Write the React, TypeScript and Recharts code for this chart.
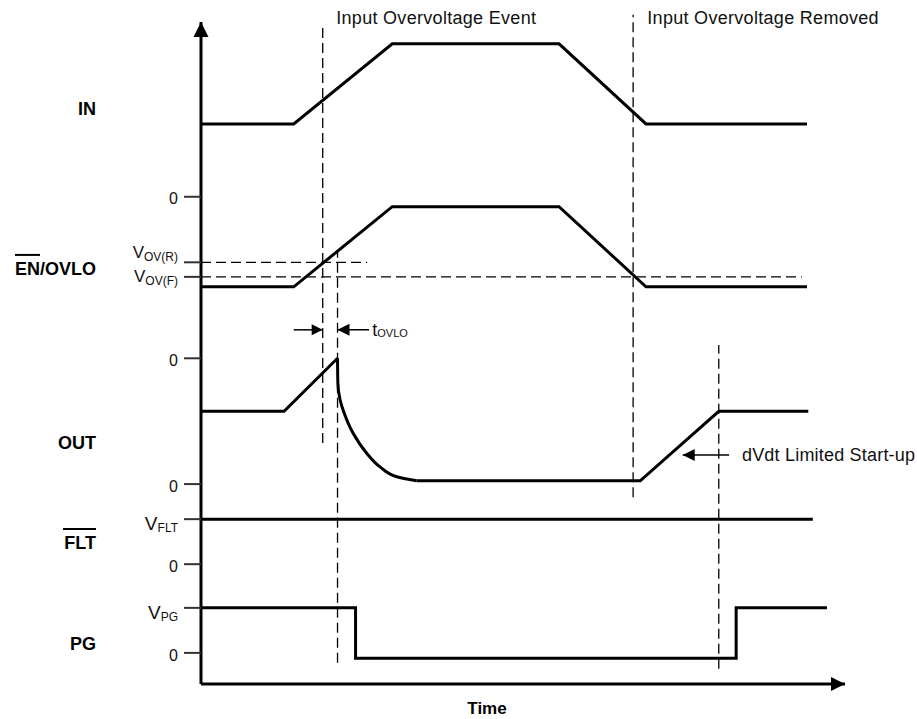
import { LineChart, Line, XAxis, YAxis, ReferenceLine, ReferenceDot } from "recharts";

const FONT = '"Liberation Sans", Arial, Helvetica, sans-serif';

// time runs 0..100 along x, the signals sit stacked in lanes on a 0..100 level axis
const edgeTime = [0, 14.4, 29.7, 55.6, 69.1, 94.1];
const inLevel = [84.6, 84.6, 96.7, 96.7, 84.6, 84.6];
const enLevel = [60.0, 60.0, 72.1, 72.1, 60.0, 60.0];

const outTime = [0, 12.9, 21.2, 21.25, 21.6, 22.2, 23.6, 25.7, 27.8, 30.4, 33.5, 68.2, 80.4, 94.3];
const outLevel = [41.2, 41.2, 49.2, 45.5, 42.9, 41.0, 37.9, 34.9, 32.8, 31.3, 30.7, 30.7, 41.2, 41.2];

const fltTime = [0, 95.0];
const fltLevel = [24.9, 24.9];

const pgTime = [0, 24.0, 24.0, 83.1, 83.1, 97.2];
const pgLevel = [11.5, 11.5, 3.9, 3.9, 11.5, 11.5];

const levelTicks = [73.6, 63.7, 61.5, 49.2, 30.2, 24.9, 18.1, 11.5, 4.7];
const levelTickLabels = ["0", "V:OV(R)", "V:OV(F)", "0", "0", "V:FLT", "0", "V:PG", "0"];

const laneNames = ["IN", "EN/OVLO", "OUT", "FLT", "PG"];
const laneBars = ["", "EN", "", "FLT", ""];
const laneCenters = [87.0, 62.7, 36.5, 21.3, 6.1];

const markerTimes = [18.9, 21.2, 67.1, 80.4];
const markerFrom = [36.4, 3.2, 28.2, 2.3];
const markerTo = [99.8, 65.3, 101.1, 51.2];

const thresholdLevels = [63.7, 61.5];
const thresholdEnds = [25.8, 93.3];

const eventNotes = ["Input Overvoltage Event", "Input Overvoltage Removed"];
const eventNoteTimes = [21.0, 69.3];
const noteLevel = 99.7;

const tovloLevel = 53.5;
const tovloIn = [14.4, 18.9];
const tovloOut = [26.1, 21.2];
const dvdtLevel = 34.6;
const dvdtArrow = [82.0, 74.8];

const rows = (ts: number[], vs: number[]) => ts.map((t, i) => ({ t, v: vs[i] }));
const inRows = rows(edgeTime, inLevel);
const enRows = rows(edgeTime, enLevel);
const outRows = rows(outTime, outLevel);
const fltRows = rows(fltTime, fltLevel);
const pgRows = rows(pgTime, pgLevel);

// approx bold Arial advance widths, used only to place the overbars
const boldW: Record<string, number> = {
  I: 0.278, N: 0.722, E: 0.667, "/": 0.278, O: 0.778, V: 0.667, L: 0.611,
  U: 0.722, T: 0.611, F: 0.611, P: 0.667, G: 0.778
};
const textWidth = (s: string, size: number) =>
  s.split("").reduce((sum, ch) => sum + (boldW[ch] ?? 0.6), 0) * size;

const subStyle: Record<string, { big: number; small: number; base: number; drop: number }> = {
  "OV(R)": { big: 17, small: 12, base: -4, drop: 3 },
  "OV(F)": { big: 17, small: 12, base: 5, drop: 3 },
  FLT: { big: 19, small: 12, base: 11, drop: 2 },
  PG: { big: 19, small: 12, base: 11, drop: 2 }
};

function LevelTick(props: any) {
  const { x, y, payload } = props;
  const lane = laneCenters.indexOf(payload.value);
  if (lane >= 0) {
    const name = laneNames[lane];
    const right = x - 82;
    const full = textWidth(name, 18);
    const bar = textWidth(laneBars[lane], 18);
    return (
      <g>
        <text x={right} y={y + 6.5} textAnchor="end" fontFamily={FONT} fontSize={18} fontWeight={700} fill="#000">
          {name}
        </text>
        {bar > 0 && (
          <line x1={right - full} x2={right - full + bar} y1={y - 14} y2={y - 14} stroke="#000" strokeWidth={2} />
        )}
      </g>
    );
  }

  const i = levelTicks.indexOf(payload.value);
  const [main, sub] = levelTickLabels[i].split(":");
  const tick = <line x1={x + 6} x2={x + 23} y1={y} y2={y} stroke="#333" strokeWidth={2} />;
  if (!sub) {
    return (
      <g>
        {tick}
        <text x={x} y={y + 7.7} textAnchor="end" fontFamily={FONT} fontSize={16} fill="#111">
          {main}
        </text>
      </g>
    );
  }
  const s = subStyle[sub];
  return (
    <g>
      {tick}
      <text x={x} y={y + s.base} textAnchor="end" fontFamily={FONT} fill="#111">
        <tspan fontSize={s.big}>{main}</tspan>
        <tspan fontSize={s.small} dy={s.drop}>{sub}</tspan>
      </text>
    </g>
  );
}

const arrowUp = (p: any) => (
  <polygon points={`${p.cx},${p.cy} ${p.cx - 7.5},${p.cy + 15} ${p.cx + 7.5},${p.cy + 15}`} fill="#000" />
);
const arrowRight = (p: any) => (
  <polygon points={`${p.cx},${p.cy} ${p.cx - 14},${p.cy - 7} ${p.cx - 14},${p.cy + 7}`} fill="#000" />
);
const headRight = (p: any) => (
  <polygon points={`${p.cx},${p.cy} ${p.cx - 11},${p.cy - 5.5} ${p.cx - 11},${p.cy + 5.5}`} fill="#000" />
);
const headLeft = (p: any) => (
  <polygon points={`${p.cx},${p.cy} ${p.cx + 12},${p.cy - 6} ${p.cx + 12},${p.cy + 6}`} fill="#000" />
);

const noteShape = (text: string) => (p: any) => (
  <text x={p.cx} y={p.cy} fontFamily={FONT} fontSize={18} letterSpacing={0.3} fill="#111">
    {text}
  </text>
);

const tovloShape = (p: any) => (
  <text x={p.cx} y={p.cy + 6} fontFamily={FONT} fill="#111">
    <tspan fontSize={18}>t</tspan>
    <tspan fontSize={11} dy={1}>OVLO</tspan>
  </text>
);

const dvdtShape = (p: any) => (
  <text x={p.cx} y={p.cy + 6.5} fontFamily={FONT} fontSize={18} letterSpacing={0.2} fill="#111">
    dVdt Limited Start-up
  </text>
);

const signal = { stroke: "#000", strokeWidth: 3, dot: false, isAnimationActive: false, activeDot: false } as const;
const dashed = { stroke: "#000", strokeWidth: 1.3, strokeDasharray: "10 5", ifOverflow: "visible" } as const;

export default function App() {
  return (
    <div style={{ width: 917, height: 719, background: "#fff" }}>
      <style>{`body{margin:0;background:#fff}`}</style>
      <LineChart width={917} height={719} margin={{ top: 22, right: 72, bottom: 0, left: 0 }}>
        <XAxis
          type="number"
          dataKey="t"
          domain={[0, 100]}
          tick={false}
          tickLine={false}
          height={35}
          axisLine={{ stroke: "#000", strokeWidth: 3 }}
          label={{
            value: "Time",
            position: "insideBottom",
            offset: 5,
            dx: -36,
            fill: "#000",
            fontSize: 17,
            fontWeight: 700,
            fontFamily: FONT
          }}
        />
        <YAxis
          type="number"
          dataKey="v"
          domain={[0, 100]}
          ticks={[...levelTicks, ...laneCenters]}
          interval={0}
          tick={(p: any) => <LevelTick {...p} />}
          tickLine={false}
          tickSize={17}
          tickMargin={6}
          width={201}
          axisLine={{ stroke: "#000", strokeWidth: 3 }}
        />

        {markerTimes.map((t, i) => (
          <ReferenceLine
            key={`m${i}`}
            {...dashed}
            segment={[{ x: t, y: markerFrom[i] }, { x: t, y: markerTo[i] }]}
          />
        ))}
        {thresholdLevels.map((v, i) => (
          <ReferenceLine
            key={`h${i}`}
            {...dashed}
            segment={[{ x: 0, y: v }, { x: thresholdEnds[i], y: v }]}
          />
        ))}

        <Line data={inRows} dataKey="v" type="linear" {...signal} />
        <Line data={enRows} dataKey="v" type="linear" {...signal} />
        <Line data={outRows.slice(0, 3)} dataKey="v" type="linear" {...signal} />
        <Line data={outRows.slice(2, 11)} dataKey="v" type="monotoneY" {...signal} />
        <Line data={outRows.slice(10)} dataKey="v" type="linear" {...signal} />
        <Line data={fltRows} dataKey="v" type="linear" {...signal} />
        <Line data={pgRows} dataKey="v" type="linear" {...signal} />

        <ReferenceLine
          segment={[{ x: tovloIn[0], y: tovloLevel }, { x: tovloIn[1], y: tovloLevel }]}
          stroke="#000"
          strokeWidth={1.5}
        />
        <ReferenceLine
          segment={[{ x: tovloOut[0], y: tovloLevel }, { x: tovloOut[1], y: tovloLevel }]}
          stroke="#000"
          strokeWidth={1.5}
        />
        <ReferenceDot x={tovloIn[1]} y={tovloLevel} ifOverflow="visible" shape={headRight} />
        <ReferenceDot x={tovloOut[1]} y={tovloLevel} ifOverflow="visible" shape={headLeft} />
        <ReferenceDot x={tovloOut[0] + 0.5} y={tovloLevel} ifOverflow="visible" shape={tovloShape} />

        <ReferenceLine
          segment={[{ x: dvdtArrow[0], y: dvdtLevel }, { x: dvdtArrow[1], y: dvdtLevel }]}
          stroke="#000"
          strokeWidth={1.5}
        />
        <ReferenceDot x={dvdtArrow[1]} y={dvdtLevel} ifOverflow="visible" shape={headLeft} />
        <ReferenceDot x={dvdtArrow[0] + 2.0} y={dvdtLevel} ifOverflow="visible" shape={dvdtShape} />

        {eventNotes.map((note, i) => (
          <ReferenceDot key={note} x={eventNoteTimes[i]} y={noteLevel} ifOverflow="visible" shape={noteShape(note)} />
        ))}

        <ReferenceDot x={0} y={100} ifOverflow="visible" shape={arrowUp} />
        <ReferenceDot x={100} y={0} ifOverflow="visible" shape={arrowRight} />
      </LineChart>
    </div>
  );
}
